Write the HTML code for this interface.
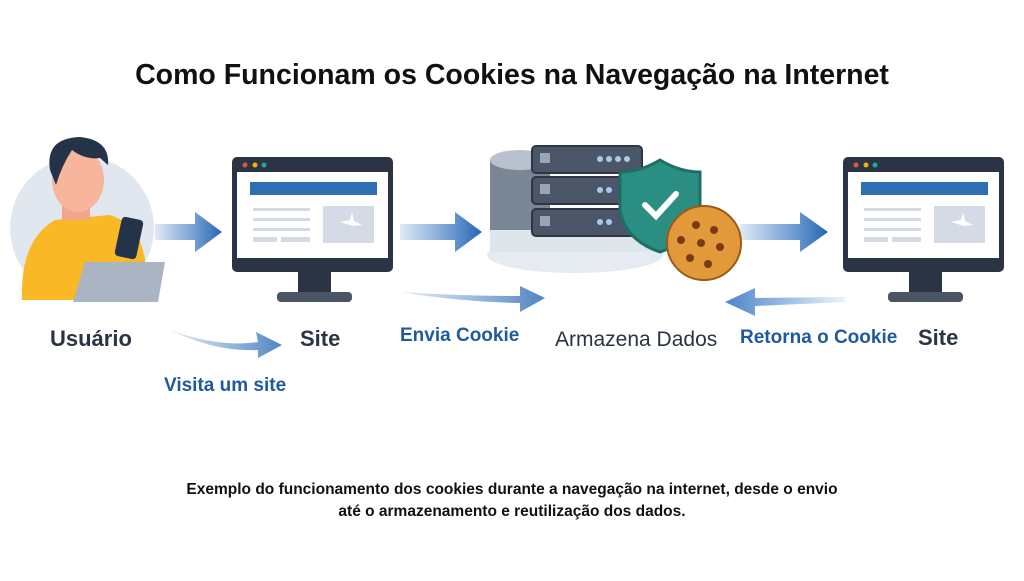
<!DOCTYPE html><html><head><meta charset="utf-8"><style>
body{margin:0;width:1024px;height:576px;background:#fff;overflow:hidden;font-family:"Liberation Sans",sans-serif}
</style></head><body>
<svg width="1024" height="576" viewBox="0 0 1024 576" xmlns="http://www.w3.org/2000/svg">
<defs>
<linearGradient id="ag" x1="0" x2="1"><stop offset="0" stop-color="#2f6fbf" stop-opacity="0.15"/><stop offset="1" stop-color="#2466b5"/></linearGradient>
<linearGradient id="ag2" x1="1" x2="0"><stop offset="0" stop-color="#4a85cc" stop-opacity="0.1"/><stop offset="1" stop-color="#4a85cc"/></linearGradient>
<g id="mon">
<rect x="232" y="157" width="161" height="115" rx="5" fill="#2b3444"/>
<rect x="237" y="172" width="151" height="86" fill="#fff"/>
<circle cx="245" cy="165" r="2.5" fill="#e0563d"/><circle cx="255" cy="165" r="2.5" fill="#f4b400"/><circle cx="264" cy="165" r="2.5" fill="#1fa6a0"/>
<rect x="250" y="182" width="127" height="13" fill="#2f6eb5"/>
<rect x="253" y="208" width="57" height="3" fill="#d4dbe6"/><rect x="253" y="218" width="57" height="3" fill="#d4dbe6"/><rect x="253" y="228" width="57" height="3" fill="#d4dbe6"/>
<rect x="253" y="237" width="24" height="5" fill="#d4dbe6"/><rect x="281" y="237" width="29" height="5" fill="#d4dbe6"/>
<rect x="323" y="206" width="51" height="37" fill="#d4dbe6"/>
<path d="M340 222 L350 220 L352 212 L354 221 L362 225 L353 226 Z" fill="#fff"/>
<rect x="298" y="272" width="33" height="21" fill="#2b3444"/>
<rect x="277" y="292" width="75" height="10" rx="4" fill="#4a5566"/>
</g>
</defs>
<text x="512" y="84" text-anchor="middle" font-size="28.5" font-weight="bold" fill="#111">Como Funcionam os Cookies na Navegação na Internet</text>
<!-- person -->
<circle cx="82" cy="228" r="72" fill="#e1e7ef"/>
<path d="M22 300 Q20 240 55 220 L110 215 Q140 225 145 260 L145 300 Z" fill="#f9b825"/>
<rect x="62" y="190" width="28" height="30" fill="#f3a58a"/>
<ellipse cx="78" cy="180" rx="26" ry="32" fill="#f6b59c"/>
<path d="M50 170 Q45 138 80 137 Q110 140 108 165 L100 158 Q85 160 72 150 Q62 165 56 185 Z" fill="#253349"/>
<rect x="118" y="218" width="22" height="40" rx="4" fill="#253349" transform="rotate(12 129 238)"/>
<path d="M85 262 L165 262 L158 302 L73 302 Z" fill="#aab4c2"/>
<!-- arrows -->
<path d="M155 224 L195 224 L195 212 L222 232 L195 252 L195 240 L155 240 Z" fill="url(#ag)"/>
<path d="M400 224 L455 224 L455 212 L482 232 L455 252 L455 240 L400 240 Z" fill="url(#ag)"/>
<path d="M740 224 L800 224 L800 212 L828 232 L800 252 L800 240 L740 240 Z" fill="url(#ag)"/>
<path d="M170 330 Q220 348 258 342 L256 332 L282 345 L258 358 L258 350 Q215 352 170 330 Z" fill="url(#ag)" opacity="0.8"/>
<path d="M400 292 Q460 296 520 296 L520 286 L545 298 L520 312 L520 303 Q460 302 400 292 Z" fill="url(#ag)" opacity="0.8"/>
<path d="M845 297 L755 298 L755 288 L725 302 L755 316 L755 306 L845 302 Z" fill="url(#ag2)"/>
<!-- monitors -->
<use href="#mon"/>
<use href="#mon" transform="translate(611 0)"/>
<!-- database -->
<ellipse cx="575" cy="255" rx="88" ry="18" fill="#e6ebf1"/>
<rect x="490" y="160" width="60" height="90" fill="#7a8596"/>
<ellipse cx="520" cy="160" rx="30" ry="10" fill="#b8c1cd"/>
<rect x="490" y="230" width="170" height="22" fill="#dfe5ec"/>
<g fill="#4b5668" stroke="#2e3645" stroke-width="2">
<rect x="532" y="146" width="110" height="27" rx="4"/><rect x="532" y="177" width="110" height="27" rx="4"/><rect x="532" y="209" width="110" height="27" rx="4"/></g>
<g fill="#9aa5b4"><rect x="540" y="153" width="10" height="10"/><rect x="540" y="184" width="10" height="10"/><rect x="540" y="216" width="10" height="10"/></g>
<g fill="#a9c8ea"><circle cx="600" cy="159" r="3"/><circle cx="609" cy="159" r="3"/><circle cx="618" cy="159" r="3"/><circle cx="627" cy="159" r="3"/><circle cx="600" cy="190" r="3"/><circle cx="609" cy="190" r="3"/><circle cx="600" cy="222" r="3"/><circle cx="609" cy="222" r="3"/></g>
<path d="M660 160 Q640 172 620 172 L620 210 Q625 240 660 252 Q695 240 700 210 L700 172 Q680 172 660 160 Z" fill="#2a8f82" stroke="#1f6e66" stroke-width="3"/>
<path d="M645 205 L656 216 L676 194" stroke="#fff" stroke-width="6" fill="none" stroke-linecap="round"/>
<circle cx="704" cy="243" r="37" fill="#e2993a" stroke="#9a5a1c" stroke-width="2"/>
<g fill="#7a3a18"><circle cx="696" cy="225" r="4"/><circle cx="714" cy="230" r="4"/><circle cx="681" cy="240" r="4"/><circle cx="701" cy="243" r="4"/><circle cx="720" cy="247" r="4"/><circle cx="690" cy="258" r="4"/><circle cx="708" cy="264" r="4"/></g>
<!-- labels -->
<g font-weight="bold">
<text x="50" y="346" font-size="22" fill="#2b3444">Usuário</text>
<text x="300" y="346" font-size="22" fill="#2b3444">Site</text>
<text x="555" y="346" font-size="21" fill="#2b3444" font-weight="normal">Armazena Dados</text>
<text x="918" y="345" font-size="22" fill="#2b3444">Site</text>
<text x="400" y="341" font-size="19" fill="#1f5a9e">Envia Cookie</text>
<text x="740" y="343" font-size="19" fill="#1f5a9e">Retorna o Cookie</text>
<text x="164" y="391" font-size="19" fill="#1f5a9e">Visita um site</text>
<text x="512" y="494" text-anchor="middle" font-size="15.5" fill="#111">Exemplo do funcionamento dos cookies durante a navegação na internet, desde o envio</text>
<text x="512" y="516" text-anchor="middle" font-size="15.5" fill="#111">até o armazenamento e reutilização dos dados.</text>
</g>
</svg>
</body></html>
